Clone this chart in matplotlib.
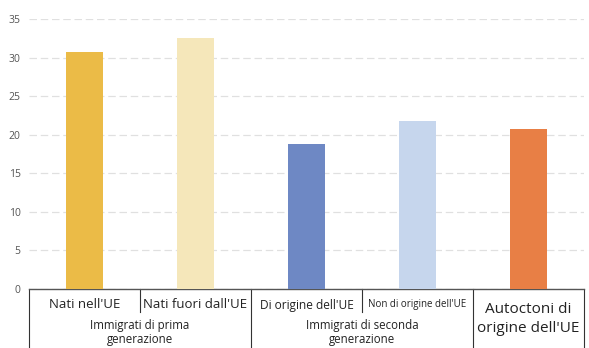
import matplotlib.pyplot as plt
import numpy as np

categorie = ["Nati nell'UE", "Nati fuori dall'UE", "Di origine dell'UE",
             "Non di origine dell'UE", "Autoctoni di\norigine dell'UE"]
valori = [30.7, 32.6, 18.8, 21.8, 20.75]
colori = ["#EBBB47", "#F5E7BA", "#6E88C4", "#C6D6ED", "#E87F45"]
gruppi = ["Immigrati di prima\ngenerazione", "Immigrati di seconda\ngenerazione"]
yticks = [0, 5, 10, 15, 20, 25, 30, 35]

plt.rcParams['font.family'] = ['Open Sans', 'DejaVu Sans']

W, H = 589, 348
fig = plt.figure(figsize=(W / 100, H / 100), dpi=100)
ax_left, ax_right, ax_top, ax_bot = 29, 584, 19, 289
ax = fig.add_axes([ax_left / W, 1 - ax_bot / H, (ax_right - ax_left) / W, (ax_bot - ax_top) / H])
ah = ax_bot - ax_top

x = np.arange(len(valori))
ax.bar(x, valori, width=0.34, color=colori, zorder=3)
ax.set_xlim(-0.5, 4.5)
ax.set_ylim(0, 35)
ax.set_yticks(yticks)
ax.set_xticks([])
ax.tick_params(axis='y', length=0, pad=6, labelsize=7.5, labelcolor="#555555")
ax.yaxis.grid(True, color="#e0e0e0", linestyle=(0, (6, 3)), linewidth=0.9, zorder=0)
for s in ["top", "right", "left"]:
    ax.spines[s].set_visible(False)
ax.spines["bottom"].set_color("#555555")
ax.spines["bottom"].set_linewidth(1.0)

tr = ax.get_xaxis_transform()
def ay(px):
    return -px / ah

# table lines below the axis
for xb in [-0.5, 1.5, 3.5, 4.5]:
    ax.plot([xb, xb], [0, ay(60)], color="#333333", lw=0.8, transform=tr, clip_on=False)
for xb in [0.5, 2.5]:
    ax.plot([xb, xb], [0, ay(23)], color="#333333", lw=0.8, transform=tr, clip_on=False)

sizes = [9.5, 9.5, 8.6, 7.0, 11]
for i, (c, fs) in enumerate(zip(categorie, sizes)):
    if i == 4:
        ax.text(i, ay(30), c, transform=tr, ha="center", va="center", fontsize=fs,
                color="#222222", linespacing=1.35)
    else:
        ax.text(i, ay(16), c, transform=tr, ha="center", va="center", fontsize=fs,
                color="#222222")

for g, xc in zip(gruppi, [0.5, 2.5]):
    ax.text(xc, ay(43.5), g, transform=tr, ha="center", va="center", fontsize=8.3,
            color="#222222", linespacing=1.0)

fig.savefig("out.png", dpi=100)
